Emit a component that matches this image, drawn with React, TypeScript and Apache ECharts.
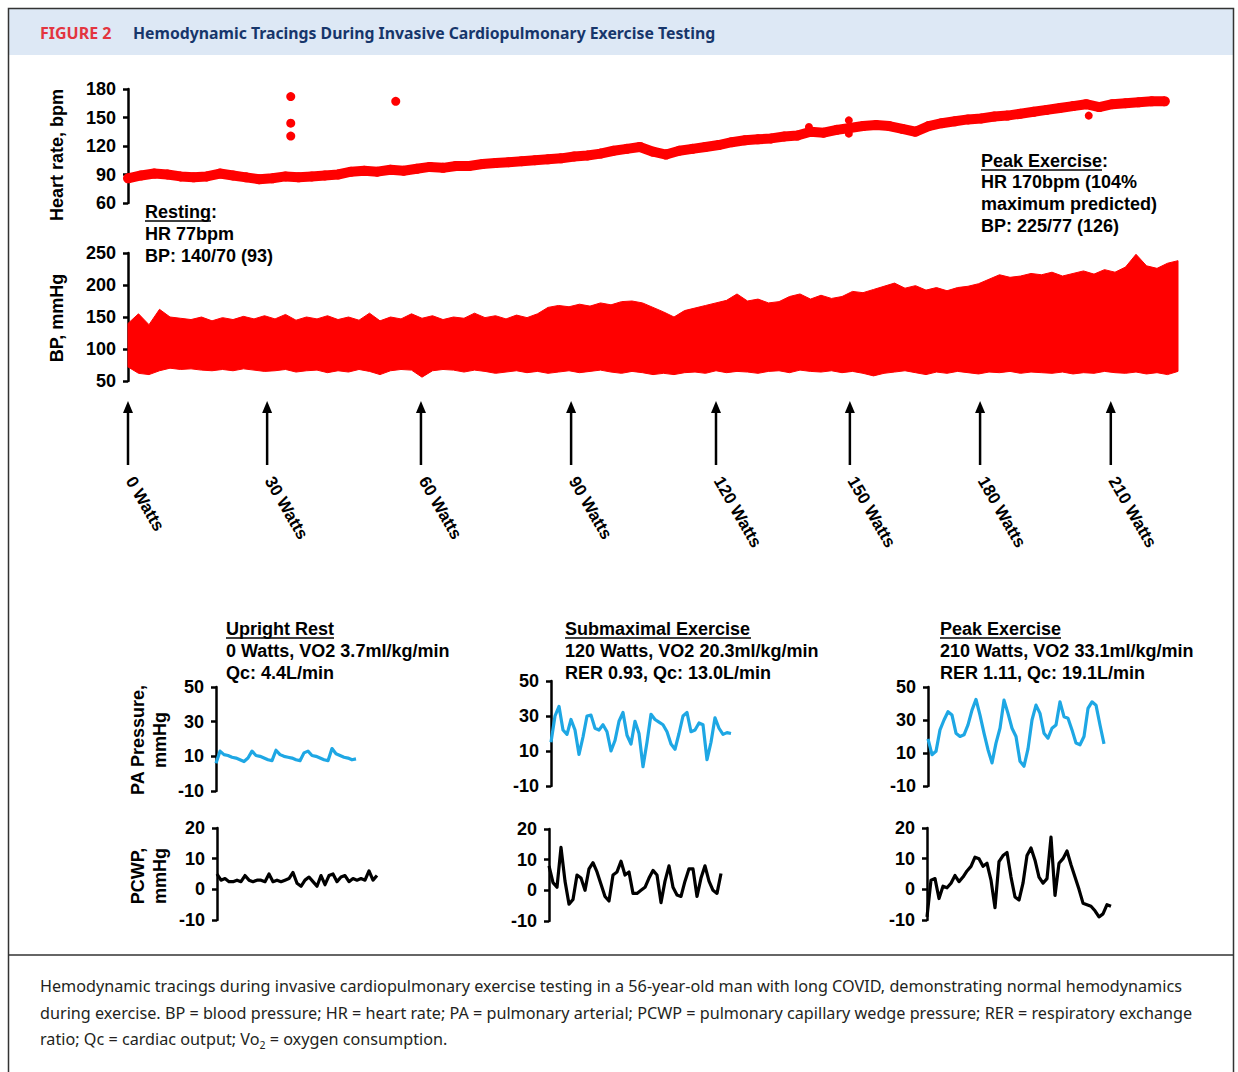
import React, { useEffect, useRef } from "react";
import * as echarts from "echarts";

// ---------------- DATA ----------------
// Heart rate (bpm), sampled every 0.25 min from 0 min
const HR_STEP = 0.25;
const HR_VALUES = [
  86, 89, 91, 90, 88, 87, 88, 91, 89, 87,
  85, 86, 88, 87, 88, 89, 90, 93, 94, 93,
  95, 94, 96, 98, 97, 99, 99, 101, 102, 103,
  104, 105, 106, 107, 109, 110, 112, 115, 117, 119,
  114, 111, 115, 117, 119, 121, 124, 126, 127, 128,
  130, 131, 135, 134, 137, 139, 141, 142, 141, 138,
  135, 141, 144, 146, 148, 149, 151, 152, 154, 156,
  158, 160, 162, 164, 161, 164, 165, 166, 167, 167,
];
// isolated heart-rate points [min, bpm]
const HR_OUTLIERS = [
  [3.1, 172], [3.1, 144], [3.1, 130.5], [5.1, 167],
];
const HR_SPIKES = [
  [12.97, 140], [13.73, 147], [13.73, 133], [18.3, 152],
];

// Blood pressure envelope (mmHg), sampled every 0.2 min from 0 min
const BP_STEP = 0.2;
const BP_UPPER = [
  140, 155, 138, 162, 150, 148, 146, 150, 144, 149,
  146, 151, 147, 152, 147, 154, 145, 150, 147, 152,
  146, 150, 145, 156, 144, 150, 147, 155, 148, 152,
  146, 150, 148, 156, 149, 152, 147, 153, 149, 155,
  165, 168, 166, 170, 167, 172, 169, 174, 175, 172,
  165, 158, 150, 160, 164, 168, 172, 176, 186, 175,
  178, 172, 174, 182, 186, 178, 184, 179, 182, 190,
  188, 193, 198, 203, 195, 199, 192, 196, 191, 196,
  198, 202, 209, 216, 212, 214, 218, 216, 220, 214,
  218, 222, 217, 224, 220, 228, 248, 230, 226, 234,
  238,
];
const BP_LOWER = [
  72, 62, 60, 66, 70, 68, 69, 67, 66, 68,
  66, 69, 67, 65, 66, 68, 64, 66, 67, 63,
  66, 64, 68, 65, 60, 66, 68, 67, 56, 66,
  68, 67, 64, 67, 65, 62, 64, 66, 63, 65,
  62, 64, 66, 63, 65, 67, 64, 62, 65, 63,
  60, 62, 60, 63, 64, 62, 66, 63, 65, 64,
  62, 65, 66, 63, 67, 65, 64, 66, 63, 65,
  62, 58, 62, 64, 66, 63, 60, 64, 62, 65,
  63, 61, 64, 63, 65, 62, 64, 63, 62, 64,
  61, 63, 62, 65, 63, 62, 64, 61, 63, 60,
  65,
];

// Workload stage start times (min) and labels
const STAGE_TIMES = [0, 2.65, 5.58, 8.44, 11.2, 13.75, 16.23, 18.72];
const STAGE_LABELS = ["0 Watts", "30 Watts", "60 Watts", "90 Watts", "120 Watts", "150 Watts", "180 Watts", "210 Watts"];

// Axis ticks
const HR_TICKS = [60, 90, 120, 150, 180];
const BP_TICKS = [50, 100, 150, 200, 250];
const PA_TICKS = [-10, 10, 30, 50];
const PCWP_TICKS = [-10, 0, 10, 20];

// Mini tracings (mmHg), equally spaced samples
const PA_REST = [
  6, 13, 11, 10.5, 9.5, 9, 8, 7, 9, 13,
  10.5, 10, 9, 8, 7.5, 13.5, 11, 10, 9.5, 9,
  8, 7.5, 12, 13, 10.5, 10, 9, 8, 7.5, 14.5,
  11.5, 10.5, 9.5, 9, 8, 8.5,
];
const PCWP_REST = [
  5, 3, 3.5, 2.5, 2.5, 3, 2.5, 4.5, 3, 2.5,
  3, 3, 2.5, 5, 2.5, 3, 2.5, 3, 3.5, 5.5,
  2, 1, 3, 4, 2.5, 1, 4.5, 1.5, 4.5, 5,
  2.5, 4, 4.5, 2.5, 3.5, 3, 3.5, 3, 6, 3,
  4.5,
];
const PA_SUB = [
  15, 30, 35.5, 22, 19.5, 28, 22, 8, 18, 30,
  30.5, 23, 22, 25, 21, 10, 16, 27, 32, 19,
  14, 27, 20, 1, 15, 31, 28, 26.5, 25, 21,
  14, 11, 20, 30, 32, 21, 22, 26, 25, 5,
  15, 29, 23, 19.5, 20.5, 20,
];
const PCWP_SUB = [
  8, 2.5, 1, 14, 3, -4.5, -3, 5, 4, 0,
  7, 9, 6, 2, -2, -3.5, 5, 6, 9.5, 5,
  6, -1, -1, 0, 1, 4, 6.5, 5, -4, 3,
  8, 1, -1.5, -2, 3, 7, 7, -2, 4, 8,
  3, 0, -1, 5.5,
];
const PA_PEAK = [
  18.5, 9, 11, 24, 30, 35, 33, 22, 20, 21,
  27, 36, 42.5, 33, 22, 12, 4, 16, 25, 42,
  34, 25, 20, 5, 2, 12.5, 30, 39, 34, 22,
  19, 25, 27, 41, 32, 31, 24, 16, 15, 20,
  37, 41, 39, 27, 15.5,
];
const PCWP_PEAK = [
  -9, 3, 3.5, -3, 1, 0.5, 2, 4.5, 2.5, 4,
  6, 7.5, 10.5, 10, 7.5, 8.5, 3, -6, 9, 11,
  12, 4, -2.5, -3.5, 2, 11, 13.5, 9.5, 4, 2,
  3.5, 17, -2, 8.5, 10, 12.5, 8, 4, 0, -4.5,
  -5, -5.5, -7, -9, -8, -5, -5.5,
];

// ---------------- STYLE ----------------
const FF = '"Liberation Sans", Arial, sans-serif';
const SANS = '"Noto Sans", "Open Sans", sans-serif';
const RED = "#ff0000";
const BLUE = "#1ea7e4";

function yAxis(gridIndex: number, min: number, max: number, ticks: number[]) {
  return {
    gridIndex,
    type: "value",
    min,
    max,
    axisLine: { show: true, lineStyle: { color: "#000", width: 2.5 } },
    axisTick: { show: true, length: 5, customValues: ticks, lineStyle: { color: "#000", width: 2.5 } },
    axisLabel: {
      customValues: ticks,
      color: "#000",
      fontWeight: "bold",
      fontSize: 18,
      fontFamily: FF,
      margin: 12,
    },
    splitLine: { show: false },
  };
}

function xAxis(gridIndex: number, max: number) {
  return { gridIndex, type: "value", min: 0, max, show: false };
}

function miniLine(idx: number, values: number[], color: string) {
  return {
    type: "line",
    xAxisIndex: idx,
    yAxisIndex: idx,
    data: values.map((v, i) => [i, v]),
    symbol: "none",
    lineStyle: { color, width: 3.2, join: "round" },
    silent: true,
  };
}

function txt(x: number, y: number, text: string, extra: any = {}) {
  return {
    type: "text",
    x,
    y,
    silent: true,
    style: {
      text,
      fill: "#000",
      fontFamily: FF,
      fontWeight: "bold",
      fontSize: 18,
      align: "left",
      verticalAlign: "middle",
      ...extra,
    },
  };
}

function uline(x: number, y: number, w: number) {
  return {
    type: "line",
    silent: true,
    shape: { x1: x, y1: y, x2: x + w, y2: y },
    style: { stroke: "#000", lineWidth: 1.5 },
  };
}

function rotTitle(x: number, y: number, text: string) {
  return {
    type: "text",
    x,
    y,
    rotation: Math.PI / 2,
    silent: true,
    style: {
      text,
      fill: "#000",
      fontFamily: FF,
      fontWeight: "bold",
      fontSize: 18,
      align: "center",
      verticalAlign: "middle",
    },
  };
}

export default function App() {
  const ref = useRef<HTMLDivElement>(null);

  useEffect(() => {
    document.body.style.margin = "0";
    if (!ref.current) return;
    const chart = echarts.init(ref.current, undefined, { renderer: "svg" });

    const captionStyle = { fontFamily: SANS, fontWeight: "normal", fontSize: 16.2, fill: "#231f20" };

    const option: any = {
      animation: false,
      backgroundColor: "#fff",
      grid: [
        { left: 128, top: 89, width: 1050, height: 114 },
        { left: 128, top: 253, width: 1050, height: 128 },
        { left: 128, top: 400, width: 1050, height: 70 },
        { left: 216, top: 687, width: 140, height: 104 },
        { left: 217, top: 828, width: 160, height: 92 },
        { left: 551, top: 681, width: 180, height: 105 },
        { left: 549, top: 829, width: 172, height: 92 },
        { left: 928, top: 687, width: 176, height: 99 },
        { left: 927, top: 828, width: 184, height: 92 },
      ],
      xAxis: [
        xAxis(0, 20),
        xAxis(1, 20),
        xAxis(2, 20),
        xAxis(3, PA_REST.length - 1),
        xAxis(4, PCWP_REST.length - 1),
        xAxis(5, PA_SUB.length - 1),
        xAxis(6, PCWP_SUB.length - 1),
        xAxis(7, PA_PEAK.length - 1),
        xAxis(8, PCWP_PEAK.length - 1),
      ],
      yAxis: [
        yAxis(0, 60, 180, HR_TICKS),
        yAxis(1, 50, 250, BP_TICKS),
        { gridIndex: 2, type: "value", min: 0, max: 1, show: false },
        yAxis(3, -10, 50, PA_TICKS),
        yAxis(4, -10, 20, PCWP_TICKS),
        yAxis(5, -10, 50, PA_TICKS),
        yAxis(6, -10, 20, PCWP_TICKS),
        yAxis(7, -10, 50, PA_TICKS),
        yAxis(8, -10, 20, PCWP_TICKS),
      ],
      series: [
        {
          type: "line",
          xAxisIndex: 0,
          yAxisIndex: 0,
          data: HR_VALUES.map((v, i) => [i * HR_STEP, v]),
          symbol: "circle",
          symbolSize: 10,
          showSymbol: true,
          showAllSymbol: true,
          itemStyle: { color: RED, opacity: 1 },
          lineStyle: { color: RED, width: 10 },
          silent: true,
        },
        {
          type: "scatter",
          xAxisIndex: 0,
          yAxisIndex: 0,
          data: HR_OUTLIERS,
          symbolSize: 9,
          itemStyle: { color: RED, opacity: 1 },
          silent: true,
        },
        {
          type: "scatter",
          xAxisIndex: 0,
          yAxisIndex: 0,
          data: HR_SPIKES,
          symbolSize: 8,
          itemStyle: { color: RED, opacity: 1 },
          silent: true,
        },
        {
          type: "custom",
          xAxisIndex: 1,
          yAxisIndex: 1,
          data: [[0, 100]],
          silent: true,
          renderItem: (params: any, api: any) => {
            const up = BP_UPPER.map((v, i) => api.coord([i * BP_STEP, v]));
            const lo = BP_LOWER.map((v, i) => api.coord([i * BP_STEP, v])).reverse();
            return {
              type: "polygon",
              shape: { points: up.concat(lo) },
              style: { fill: RED, stroke: RED, lineWidth: 1 },
            };
          },
        },
        {
          type: "custom",
          xAxisIndex: 2,
          yAxisIndex: 2,
          data: STAGE_TIMES.map((t, i) => [t, 0.5, i]),
          silent: true,
          renderItem: (params: any, api: any) => {
            const t = api.value(0);
            const idx = api.value(2);
            const x = api.coord([t, 0])[0];
            return {
              type: "group",
              children: [
                { type: "line", shape: { x1: x, y1: 465, x2: x, y2: 410 }, style: { stroke: "#000", lineWidth: 2.5 } },
                { type: "polygon", shape: { points: [[x, 401], [x - 5, 413], [x + 5, 413]] }, style: { fill: "#000" } },
                {
                  type: "text",
                  x: x + 2,
                  y: 478,
                  rotation: -Math.PI / 3,
                  style: {
                    text: STAGE_LABELS[idx],
                    fill: "#000",
                    fontFamily: FF,
                    fontWeight: "bold",
                    fontSize: 17,
                    align: "left",
                    verticalAlign: "middle",
                  },
                },
              ],
            };
          },
        },
        miniLine(3, PA_REST, BLUE),
        miniLine(4, PCWP_REST, "#000"),
        miniLine(5, PA_SUB, BLUE),
        miniLine(6, PCWP_SUB, "#000"),
        miniLine(7, PA_PEAK, BLUE),
        miniLine(8, PCWP_PEAK, "#000"),
      ],
      graphic: [
        { type: "rect", silent: true, shape: { x: 9, y: 9, width: 1224, height: 46 }, style: { fill: "#dde8f5" } },
        { type: "rect", silent: true, shape: { x: 8.5, y: 8.5, width: 1225, height: 1080 }, style: { fill: "none", stroke: "#333", lineWidth: 1.5 } },
        { type: "line", silent: true, shape: { x1: 8, y1: 955, x2: 1234, y2: 955 }, style: { stroke: "#333", lineWidth: 1.5 } },
        txt(40, 33, "FIGURE 2", { fill: "#e3353f", fontFamily: SANS, fontSize: 16 }),
        txt(133, 33, "Hemodynamic Tracings During Invasive Cardiopulmonary Exercise Testing", { fill: "#17366b", fontFamily: SANS, fontSize: 15.8 }),

        rotTitle(57, 155, "Heart rate, bpm"),
        rotTitle(57, 318, "BP, mmHg"),
        rotTitle(138, 740, "PA Pressure,"),
        rotTitle(160, 740, "mmHg"),
        rotTitle(138, 876, "PCWP,"),
        rotTitle(160, 876, "mmHg"),

        txt(145, 212, "Resting:"),
        uline(145, 221, 66),
        txt(145, 234, "HR 77bpm"),
        txt(145, 256, "BP: 140/70 (93)"),

        txt(981, 161, "Peak Exercise:"),
        uline(981, 170, 121),
        txt(981, 182, "HR 170bpm (104%"),
        txt(981, 204, "maximum predicted)"),
        txt(981, 226, "BP: 225/77 (126)"),

        txt(226, 629, "Upright Rest"),
        uline(226, 638, 108),
        txt(226, 651, "0 Watts, VO2 3.7ml/kg/min"),
        txt(226, 673, "Qc: 4.4L/min"),

        txt(565, 629, "Submaximal Exercise"),
        uline(565, 638, 186),
        txt(565, 651, "120 Watts, VO2 20.3ml/kg/min"),
        txt(565, 673, "RER 0.93, Qc: 13.0L/min"),

        txt(940, 629, "Peak Exercise"),
        uline(940, 638, 121),
        txt(940, 651, "210 Watts, VO2 33.1ml/kg/min"),
        txt(940, 673, "RER 1.11, Qc: 19.1L/min"),

        txt(40, 986, "Hemodynamic tracings during invasive cardiopulmonary exercise testing in a 56-year-old man with long COVID, demonstrating normal hemodynamics", captionStyle),
        txt(40, 1013, "during exercise. BP = blood pressure; HR = heart rate; PA = pulmonary arterial; PCWP = pulmonary capillary wedge pressure; RER = respiratory exchange", captionStyle),
        txt(40, 1039, "ratio; Qc = cardiac output; Vo{sub|2} = oxygen consumption.", {
          ...captionStyle,
          lineHeight: 22,
          rich: {
            sub: { fontFamily: SANS, fontSize: 10.5, fill: "#231f20", lineHeight: 12, verticalAlign: "bottom" },
          },
        }),
      ],
    };

    chart.setOption(option);
    return () => chart.dispose();
  }, []);

  return <div ref={ref} style={{ width: 1238, height: 1072 }} />;
}
